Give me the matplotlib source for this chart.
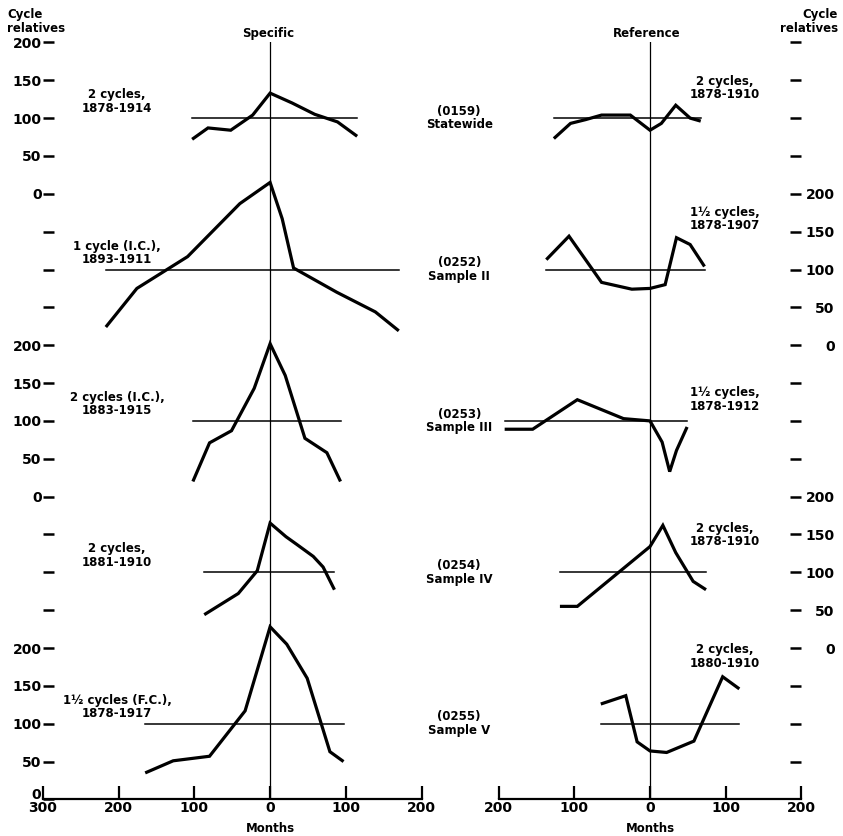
import matplotlib.pyplot as plt
import numpy as np

plt.rcParams['font.family'] = 'DejaVu Sans'
plt.rcParams['font.weight'] = 'bold'

# five series stacked on one scale, each panel 200 units above the next
panels = ["Statewide", "Sample II", "Sample III", "Sample IV", "Sample V"]
codes = ["(0159)", "(0252)", "(0253)", "(0254)", "(0255)"]
offsets = [800, 600, 400, 200, 0]

# specific cycles: months from peak, cycle relatives
spec_months = [
    [-103, -82, -52, -23, 0, 29, 59, 89, 115],
    [-217, -176, -109, -40, 0, 16, 31, 88, 139, 170],
    [-102, -80, -51, -21, 0, 20, 46, 75, 93],
    [-87, -42, -17, 0, 21, 35, 57, 70, 85],
    [-165, -128, -80, -33, 0, 22, 49, 79, 97],
]
spec_values = [
    [72, 87, 84, 104, 133, 120, 105, 95, 76],
    [24, 75, 117, 187, 215, 167, 102, 70, 44, 19],
    [20, 71, 87, 143, 202, 160, 77, 58, 20],
    [44, 72, 102, 165, 147, 137, 121, 107, 77],
    [35, 51, 57, 117, 228, 205, 160, 63, 50],
]
spec_notes = ["2 cycles,\n1878-1914", "1 cycle (I.C.),\n1893-1911",
              "2 cycles (I.C.),\n1883-1915", "2 cycles,\n1881-1910",
              "1½ cycles (F.C.),\n1878-1917"]

# reference cycles
ref_months = [
    [-127, -105, -85, -64, -26, 0, 15, 34, 53, 67],
    [-137, -107, -64, -24, 0, 20, 35, 53, 72],
    [-192, -155, -96, -35, 0, 16, 26, 35, 49],
    [-119, -96, 0, 17, 34, 57, 74],
    [-65, -32, -17, 0, 22, 58, 96, 118],
]
ref_values = [
    [73, 93, 98, 104, 104, 84, 93, 117, 100, 96],
    [113, 144, 83, 74, 75, 80, 142, 133, 104],
    [89, 89, 128, 103, 100, 72, 33, 61, 92],
    [55, 55, 134, 162, 126, 88, 77],
    [126, 137, 76, 64, 62, 77, 162, 146],
]
ref_notes = ["2 cycles,\n1878-1910", "1½ cycles,\n1878-1907",
             "1½ cycles,\n1878-1912", "2 cycles,\n1878-1910",
             "2 cycles,\n1880-1910"]
ref_note_y = [140, 167, 128, 149, 189]

spec_xticks = [-300, -200, -100, 0, 100, 200]
ref_xticks = [-200, -100, 0, 100, 200]
left_scaled = [800, 400, 0]   # panels with a labelled scale on the left
right_scaled = [600, 200]     # ... and on the right


def scale_labels(ticks, scaled):
    out = []
    for t in ticks:
        lab = ''
        for off in scaled:
            if off <= t <= off + 200:
                lab = str(t - off)
        out.append(lab)
    return out


fig = plt.figure(figsize=(8.43, 8.36), dpi=100)
ax_s = fig.add_axes([43 / 843, 36.6 / 836, 378.5 / 843, 757 / 836])
ax_r = fig.add_axes([498.6 / 843, 36.6 / 836, 302.8 / 843, 757 / 836])

for ax, months, values, xt in [(ax_s, spec_months, spec_values, spec_xticks),
                               (ax_r, ref_months, ref_values, ref_xticks)]:
    for m, v, off in zip(months, values, offsets):
        ax.plot(m, np.array(v) + off, color='black', lw=2.3,
                solid_joinstyle='miter', solid_capstyle='butt', zorder=3)
        ax.plot([min(m), max(m)], [off + 100, off + 100], color='black',
                lw=1.1, zorder=2)
    ax.axvline(0, color='black', lw=0.9, zorder=1)
    ax.set_xlim(xt[0], xt[-1])
    ax.set_ylim(0, 1000)
    for s in ['top', 'left', 'right']:
        ax.spines[s].set_visible(False)
    ax.spines['bottom'].set_linewidth(1.6)
    ax.set_xticks(xt)
    ax.set_xticklabels([str(abs(t)) for t in xt])
    ax.tick_params(axis='x', direction='in', length=9.5, width=1.6,
                   pad=1.5, labelsize=10)
    ax.text(0.0, -0.0378, "Months", transform=ax.get_xaxis_transform(),
            ha='center', va='center', fontsize=8.5)

# left scale; the bottom "0" sits just above the month labels
lt = list(range(0, 1001, 50))
left_labels = scale_labels(lt, left_scaled)
left_labels[0] = ''
ax_s.set_yticks(lt)
ax_s.set_yticklabels(left_labels)
ax_s.tick_params(axis='y', direction='in', length=8, width=1.8, pad=1,
                 labelsize=10)
ax_s.annotate('0', xy=(0, 0), xycoords=('axes fraction', 'data'),
              xytext=(-1.5, 3), textcoords='offset points',
              ha='right', va='center', fontsize=10)

# right scale
rt = list(range(50, 1001, 50))
ax_r.yaxis.tick_right()
ax_r.set_yticks(rt)
ax_r.set_yticklabels(scale_labels(rt, right_scaled))
ax_r.tick_params(axis='y', direction='in', length=8, width=1.8, pad=24,
                 labelsize=10)
for lab in ax_r.get_yticklabels():
    lab.set_horizontalalignment('right')

# annotations
for off, note in zip(offsets, spec_notes):
    ax_s.text(-202, off + 122, note, ha='center', va='center',
              multialignment='center', fontsize=8.5, linespacing=1.05)
for off, note, ny in zip(offsets, ref_notes, ref_note_y):
    ax_r.text(99, off + ny, note, ha='center', va='center',
              multialignment='center', fontsize=8.5, linespacing=1.05,
              clip_on=False)
for off, code, name in zip(offsets, codes, panels):
    ax_r.text(-252, off + 100, code + "\n" + name, ha='center', va='center',
              multialignment='center', fontsize=8.5, linespacing=1.05,
              clip_on=False)

ax_s.text(-3, 1012, "Specific", ha='center', va='center', fontsize=8.5,
          clip_on=False)
ax_r.text(-5, 1012, "Reference", ha='center', va='center', fontsize=8.5,
          clip_on=False)
fig.text(7 / 843, 1 - 8 / 836, "Cycle\nrelatives", ha='left', va='top',
         fontsize=8.5, linespacing=1.05)
fig.text(838 / 843, 1 - 8 / 836, "Cycle\nrelatives", ha='right', va='top',
         multialignment='right', fontsize=8.5, linespacing=1.05)

fig.savefig("out.png", dpi=100)
